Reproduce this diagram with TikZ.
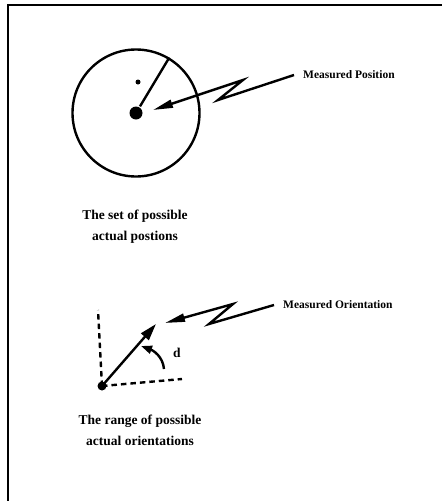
\documentclass[tikz,border=0pt]{standalone}
\usepackage{fontspec}
\setmainfont{Liberation Serif}
\usetikzlibrary{arrows.meta}

\begin{document}
\begin{tikzpicture}[
  x=1pt, y=-1pt,
  line width=2.4pt,
  dot/.style={circle, fill, inner sep=0pt},
  caption/.style={align=center, font=\fontsize{13.5}{21}\selectfont\bfseries},
  tag/.style={anchor=west, inner sep=8pt, font=\fontsize{11.5}{14}\selectfont\bfseries},
  bolt/.style={-{Triangle[length=20pt, width=8pt]}, line join=miter},
  pointer/.style={-{Triangle[length=17pt, width=10pt]}},
  dashline/.style={dash pattern=on 5.5pt off 4pt}
]
\useasboundingbox (0,0) rectangle (442,501);
\draw[line width=2pt] (8,501) -- (8,5) -- (442,5);

\node[draw, circle, minimum size=127pt, inner sep=0pt] (region) at (136,113) {};
\node[dot, minimum size=13pt] (estimate) at (136,113) {};
\node[dot, minimum size=5pt] (actual) at (138,82) {};
\draw (estimate) -- (region.59);
\node[tag] (mpos) at (294,75) {Measured Position};
\coordinate (pkink1) at (218,100);
\coordinate (pkink2) at (243,80);
\coordinate (ptip) at (153,110);
\draw[bolt] (mpos.west) -- (pkink1) -- (pkink2) -- (ptip);
\node[caption] (setcap) at (135,227) {The set of possible\\actual postions};

\node[dot, minimum size=9pt] (origin) at (102,386) {};
\coordinate (vend) at (98,310);
\coordinate (hend) at (182,379);
\draw[dashline] (origin.center) -- (vend);
\draw[dashline] (origin.center) -- (hend);
\coordinate (otip) at (156,324);
\draw[pointer] (origin.center) -- (otip);
\coordinate (dstart) at (164,369);
\coordinate (dtip) at (141,346);
\draw[-{Triangle[length=11pt, width=8pt]}] (dstart) to[out=95, in=-20] (dtip);
\node[caption] (dlabel) at (177,353) {d};
\node[tag] (mori) at (274,305) {Measured Orientation};
\coordinate (okink1) at (209,324);
\coordinate (okink2) at (233,304);
\coordinate (obtip) at (165,323);
\draw[bolt] (mori.west) -- (okink1) -- (okink2) -- (obtip);
\node[caption] (rangecap) at (140,430) {The range of possible\\actual orientations};
\end{tikzpicture}
\end{document}
